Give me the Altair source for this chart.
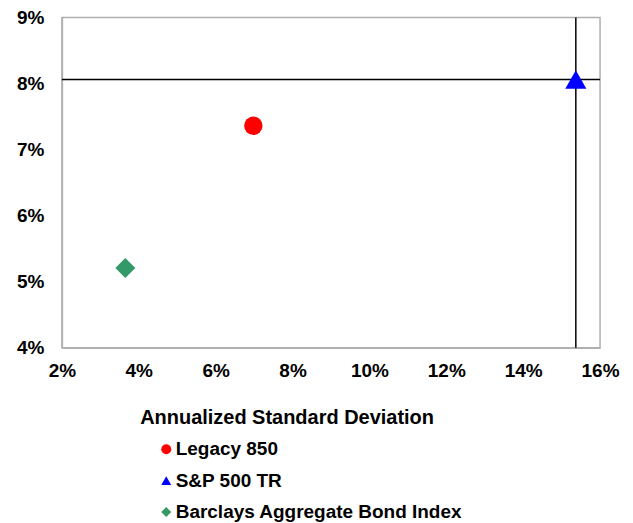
import altair as alt
import pandas as pd

series = ["Legacy 850", "S&P 500 TR", "Barclays Aggregate Bond Index"]
std_dev = [0.0698, 0.1537, 0.0365]
returns = [0.0736, 0.0806, 0.0521]
colors = ["#FF0000", "#0000FF", "#339966"]
shapes = ["circle", "triangle-up", "diamond"]
sizes = [340, 450, 400]

x_ticks = [0.02, 0.04, 0.06, 0.08, 0.10, 0.12, 0.14, 0.16]
y_ticks = [0.04, 0.05, 0.06, 0.07, 0.08, 0.09]

df = pd.DataFrame({"name": series, "sd": std_dev, "ret": returns, "size": sizes})

FONT = "Liberation Sans"
FS = 19

xscale = alt.Scale(domain=[0.02, 0.16], nice=False, zero=False)
yscale = alt.Scale(domain=[0.04, 0.09], nice=False, zero=False)

points = alt.Chart(df).mark_point(filled=True, opacity=1, strokeWidth=0).encode(
    x=alt.X("sd:Q", scale=xscale,
            axis=alt.Axis(values=x_ticks, format=".0%", title="Annualized Standard Deviation",
                          titleX=225, titleY=76, titleBaseline="alphabetic", titleAlign="center",
                          titleFontSize=20)),
    y=alt.Y("ret:Q", scale=yscale, axis=alt.Axis(values=y_ticks, format=".0%", title=None)),
    color=alt.Color("name:N", scale=alt.Scale(domain=series, range=colors),
                    legend=alt.Legend(title=None, orient="none", legendX=95, legendY=423,
                                      padding=0, rowPadding=11.5, labelOffset=0,
                                      symbolSize=100, labelFontSize=FS, labelFont=FONT,
                                      labelFontWeight="bold", labelColor="black",
                                      labelLimit=400)),
    shape=alt.Shape("name:N", scale=alt.Scale(domain=series, range=shapes), legend=None),
    size=alt.Size("size:Q", scale=None, legend=None),
)

sp = df[df["name"] == "S&P 500 TR"]
vline = alt.Chart(sp).mark_rule(color="black", strokeWidth=1.5).encode(
    x=alt.X("sd:Q", scale=xscale))
hline = alt.Chart(sp).mark_rule(color="black", strokeWidth=1.5).encode(
    y=alt.Y("ret:Q", scale=yscale))

chart = alt.layer(vline, hline, points).properties(
    width=539, height=331, padding={"left": 8, "top": 0, "right": 5, "bottom": 0}
).configure_view(
    stroke="#b0b0b0", strokeWidth=1.5
).configure_axis(
    grid=False, ticks=False, domainColor="#b0b0b0", domainWidth=1.5, labelFlush=False,
    labelFont=FONT, labelFontSize=FS, labelFontWeight="bold", labelColor="black",
    titleFont=FONT, titleFontSize=FS, titleFontWeight="bold", titleColor="black",
).configure_axisX(
    labelPadding=14
).configure_axisY(
    labelPadding=18
)

chart.save("out.html", embed_options={"renderer": "svg", "actions": False})
